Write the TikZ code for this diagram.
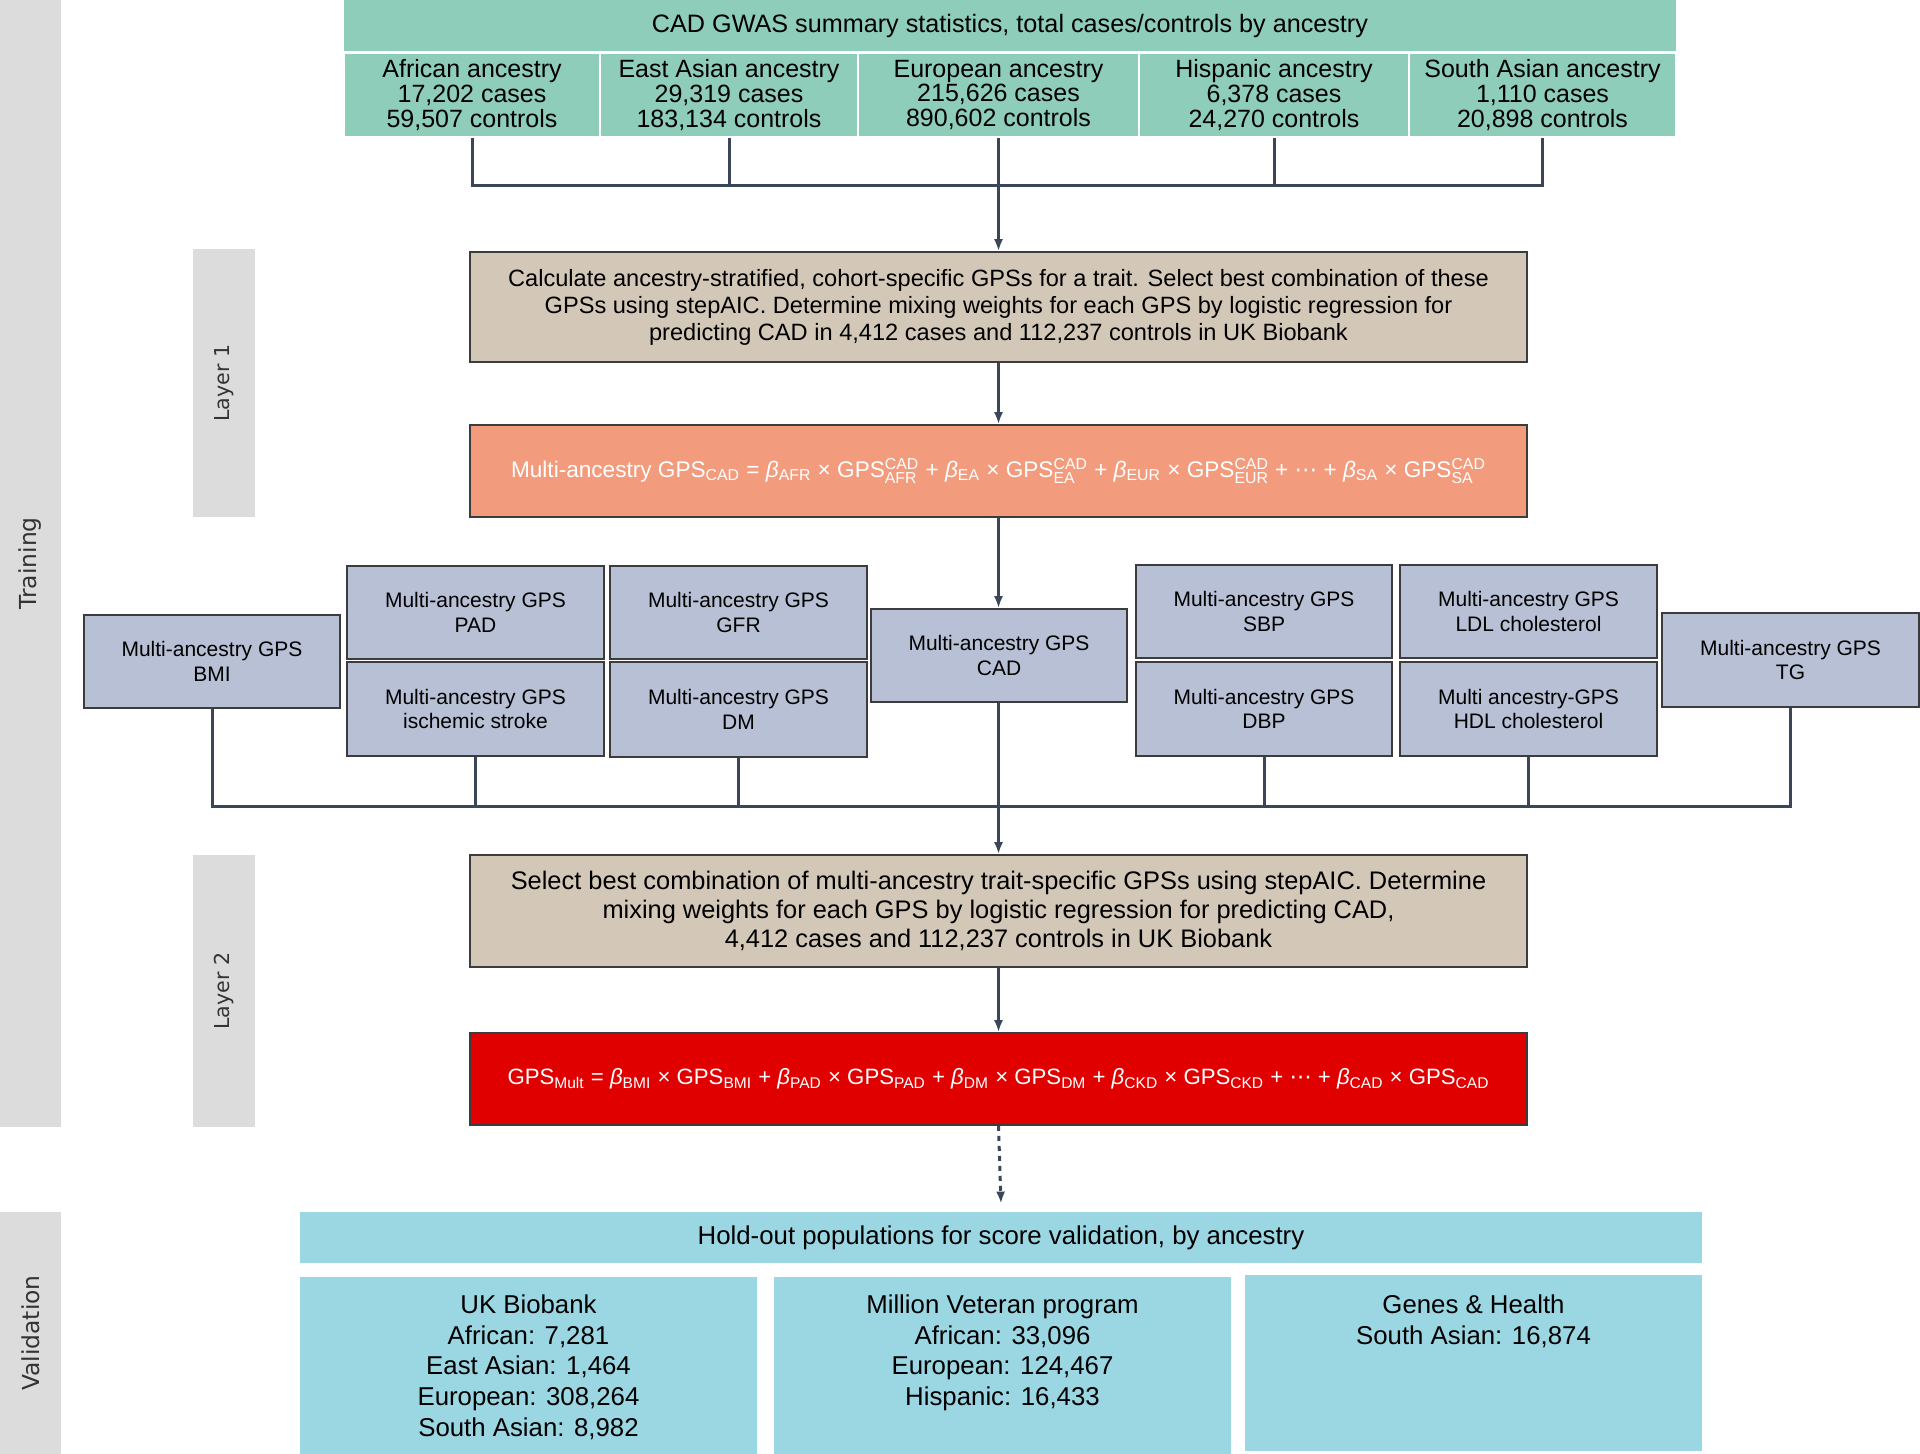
\documentclass[tikz,border=0pt]{standalone}
\usepackage{fontspec}
\setmainfont{Liberation Sans}
\newfontfamily\sidefont{DejaVu Sans}
\usepackage{amsmath}
\usetikzlibrary{arrows.meta,calc}
\definecolor{hdrgreen}{HTML}{8ECDBA}
\definecolor{tanbox}{HTML}{D3C8B8}
\definecolor{salmonbox}{HTML}{F29B7D}
\definecolor{redbox}{HTML}{E00000}
\definecolor{lavbox}{HTML}{B7C0D4}
\definecolor{valblue}{HTML}{9BD6E3}
\definecolor{sidegrey}{HTML}{DCDCDC}
\definecolor{connc}{HTML}{3B4759}
\definecolor{edgec}{HTML}{3C3C3C}
\definecolor{sidetext}{HTML}{333333}
\newcommand\gpsca[1]{GPS$^{\text{CAD}}_{\text{#1}}$}
\newcommand\bsub[1]{\textit{β}$_{\text{#1}}$}
\newcommand\gsub[1]{GPS$_{\text{#1}}$}
\newcommand\mydots{{\sidefont ⋯}}
\tikzset{
  boxspan/.style n args={4}{minimum width={(#3-#1)*0.5pt}, minimum height={(#4-#2)*0.5pt}, at={({(#1+#3)/2},{(#2+#4)/2})}},
  sidebar/.style={fill=sidegrey, draw=none, inner sep=0pt},
  sidelabel/.style={rotate=90, font=\sidefont\fontsize{11.7}{13}\selectfont, text=sidetext},
  layerlabel/.style={rotate=90, font=\sidefont\fontsize{10.3}{13}\selectfont, text=sidetext},
  hdrcell/.style={fill=hdrgreen, draw=white, line width=1pt, inner sep=0pt, align=center, font=\fontsize{12.5}{12.3}\selectfont},
  hdrtitle/.style={fill=hdrgreen, draw=none, inner sep=0pt, font=\fontsize{12.6}{13}\selectfont},
  framed/.style={draw=edgec, line width=0.8pt, inner sep=0pt, align=center},
  tanstep/.style={framed, fill=tanbox},
  formula/.style={framed, text=white},
  trait/.style={framed, fill=lavbox, font=\fontsize{10.5}{12.25}\selectfont},
  valbox/.style={fill=valblue, draw=none, inner sep=0pt},
  valtext/.style={align=center, anchor=north, inner sep=0pt, font=\fontsize{12.9}{15.3}\selectfont},
  conn/.style={draw=connc, line width=1.5pt},
  arr/.style={conn, -{Latex[length=6pt,width=4.5pt]}},
}
\begin{document}
\begin{tikzpicture}[x=0.5pt,y=-0.5pt]
\useasboundingbox (0,0) rectangle (1920,1454);
% side bars
\node[sidebar, boxspan={0}{0}{61}{1127}] (trainbar) {};
\node[sidelabel] (trainlbl) at (trainbar.center) {Training};
\node[sidebar, boxspan={0}{1212}{61}{1454}] (valbar) {};
\node[sidelabel] (vallbl) at (valbar.center) {Validation};
\node[sidebar, boxspan={193}{249}{255}{517}] (l1bar) {};
\node[layerlabel] (l1lbl) at (l1bar.center) {Layer 1};
\node[sidebar, boxspan={193}{855}{255}{1127}] (l2bar) {};
\node[layerlabel] (l2lbl) at (l2bar.center) {Layer 2};
% header
\node[hdrtitle, boxspan={344}{0}{1676}{51}] (title) {CAD GWAS summary statistics, total cases/controls by ancestry};
\node[hdrcell, boxspan={344}{53}{600}{137}] (afr) {African ancestry\\17,202 cases\\59,507 controls};
\node[hdrcell, boxspan={600}{53}{858}{137}] (eas) {East Asian ancestry\\29,319 cases\\183,134 controls};
\node[hdrcell, boxspan={858}{53}{1139}{137}] (eur) {European ancestry\\215,626 cases\\890,602 controls};
\node[hdrcell, boxspan={1139}{53}{1409}{137}] (his) {Hispanic ancestry\\6,378 cases\\24,270 controls};
\node[hdrcell, boxspan={1409}{53}{1676}{137}] (sas) {South Asian ancestry\\1,110 cases\\20,898 controls};
% layer 1
\node[tanstep, boxspan={470}{252}{1527}{362}, font=\fontsize{11.8}{13.5}\selectfont] (b1) {Calculate ancestry-stratified, cohort-specific GPSs for a trait. Select best combination of these\\GPSs using stepAIC. Determine mixing weights for each GPS by logistic regression for\\predicting CAD in 4,412 cases and 112,237 controls in UK Biobank};
\node[formula, fill=salmonbox, boxspan={470}{425}{1527}{517}, font=\fontsize{11.3}{13}\selectfont] (b2) {Multi-ancestry \gsub{CAD} = \bsub{AFR} × \gpsca{AFR} + \bsub{EA} × \gpsca{EA} + \bsub{EUR} × \gpsca{EUR} + \mydots{} + \bsub{SA} × \gpsca{SA}};
% traits
\node[trait, boxspan={84}{615}{340}{708}] (bmi) {Multi-ancestry GPS\\BMI};
\node[trait, boxspan={347}{566}{604}{659}] (pad) {Multi-ancestry GPS\\PAD};
\node[trait, boxspan={347}{662}{604}{756}] (isch) {Multi-ancestry GPS\\ischemic stroke};
\node[trait, boxspan={610}{566}{867}{659}] (gfr) {Multi-ancestry GPS\\GFR};
\node[trait, boxspan={610}{662}{867}{757}] (dm) {Multi-ancestry GPS\\DM};
\node[trait, boxspan={871}{609}{1127}{702}] (cad) {Multi-ancestry GPS\\CAD};
\node[trait, boxspan={1136}{565}{1392}{658}] (sbp) {Multi-ancestry GPS\\SBP};
\node[trait, boxspan={1136}{662}{1392}{756}] (dbp) {Multi-ancestry GPS\\DBP};
\node[trait, boxspan={1400}{565}{1657}{658}] (ldl) {Multi-ancestry GPS\\LDL cholesterol};
\node[trait, boxspan={1400}{662}{1657}{756}] (hdl) {Multi ancestry-GPS\\HDL cholesterol};
\node[trait, boxspan={1662}{613}{1919}{707}] (tg) {Multi-ancestry GPS\\TG};
% layer 2
\node[tanstep, boxspan={470}{855}{1527}{967}, font=\fontsize{12.7}{14.4}\selectfont] (b3) {Select best combination of multi-ancestry trait-specific GPSs using stepAIC. Determine\\mixing weights for each GPS by logistic regression for predicting CAD,\\4,412 cases and 112,237 controls in UK Biobank};
\node[formula, fill=redbox, boxspan={470}{1033}{1527}{1125}, font=\fontsize{11.1}{13}\selectfont] (b4) {\gsub{Mult} = \bsub{BMI} × \gsub{BMI} + \bsub{PAD} × \gsub{PAD} + \bsub{DM} × \gsub{DM} + \bsub{CKD} × \gsub{CKD} + \mydots{} + \bsub{CAD} × \gsub{CAD}};
% validation
\node[valbox, boxspan={300}{1212}{1702}{1263}, font=\fontsize{12.9}{13}\selectfont] (valhdr) {Hold-out populations for score validation, by ancestry};
\node[valbox, boxspan={300}{1277}{757}{1454}] (ukb) {};
\node[valbox, boxspan={774}{1277}{1231}{1454}] (mvp) {};
\node[valbox, boxspan={1245}{1275}{1702}{1451}] (gh) {};
\node[valtext] (ukbt) at ($(ukb.north)+(0,18)$) {UK Biobank\\African: 7,281\\East Asian: 1,464\\European: 308,264\\South Asian: 8,982};
\node[valtext] (mvpt) at ($(mvp.north)+(0,18)$) {Million Veteran program\\African: 33,096\\European: 124,467\\Hispanic: 16,433};
\node[valtext] (ght) at ($(gh.north)+(0,20)$) {Genes \& Health\\South Asian: 16,874};
% connectors top
\coordinate (j1) at (999,186);
\draw[conn] (afr.south) |- (j1);
\draw[conn] (sas.south) |- (j1);
\draw[conn] (eas.south) -- (eas.south |- j1);
\draw[conn] (his.south) -- (his.south |- j1);
\draw[arr] (eur.south) -- (eur.south |- b1.north);
\draw[arr] (b1.south) -- (b2.north);
\draw[arr] (b2.south) -- (b2.south |- cad.north);
% connectors traits
\coordinate (j2) at (999,806);
\draw[conn] (bmi.south) |- (j2);
\draw[conn] (tg.south) |- (j2);
\draw[conn] (isch.south) -- (isch.south |- j2);
\draw[conn] (dm.south) -- (dm.south |- j2);
\draw[conn] (dbp.south) -- (dbp.south |- j2);
\draw[conn] (hdl.south) -- (hdl.south |- j2);
\draw[arr] (cad.south -| b3.north) -- (b3.north);
\draw[arr] (b3.south) -- (b4.north);
\draw[arr, dash pattern=on 2.5pt off 2.5pt] (b4.south) -- ($(valhdr.north)+(0,-8)$);
\end{tikzpicture}
\end{document}
